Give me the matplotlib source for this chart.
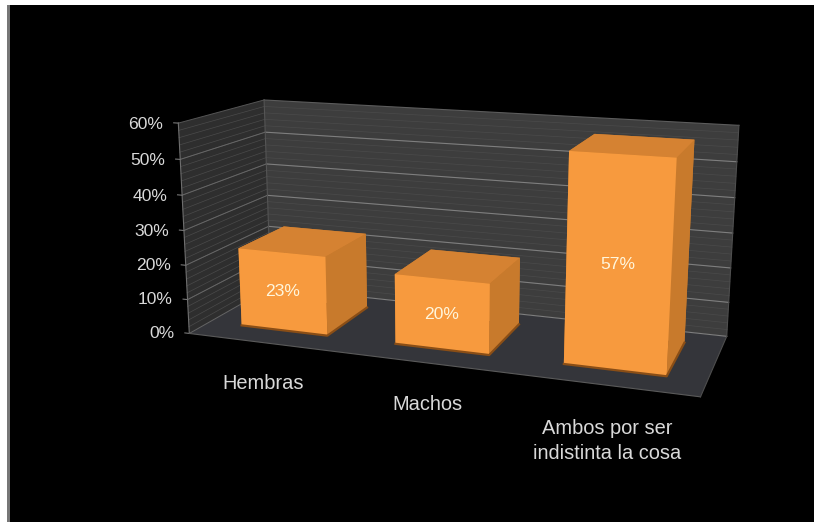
import numpy as np
import matplotlib
matplotlib.use("Agg")
import matplotlib.pyplot as plt
from matplotlib.patches import Rectangle

categories = ["Hembras", "Machos", "Ambos por ser\nindistinta la cosa"]
values = [0.23, 0.20, 0.57]
value_labels = ["23%", "20%", "57%"]
zticks = [0, .1, .2, .3, .4, .5, .6]
zticklabels = ["0%", "10%", "20%", "30%", "40%", "50%", "60%"]

W, H = 814, 522
S = 800
BAR_W, Y0, Y1 = 0.5678, 0.2338, 0.8060
FRONT, SIDE, TOP, BOTTOM = "#F79A3E", "#C87A2C", "#D58232", "#8A4E16"
TXT = "#D9D9D9"
plt.rcParams["font.family"] = ["Liberation Sans", "DejaVu Sans"]

fig = plt.figure(figsize=(W/100, H/100), dpi=100, facecolor="white")
fig.add_artist(Rectangle((7/W, 0), 3/W, (H-5)/H, transform=fig.transFigure, fc="#777777", ec="none", zorder=-2))
fig.add_artist(Rectangle((10/W, 0), 1-10/W, (H-5)/H, transform=fig.transFigure, fc="black", ec="none", zorder=-1))

ax = fig.add_axes([47.03/W, -120.59/H, S/W, S/H], projection="3d")
ax.patch.set_visible(False)
ax.set_xlim(0, 3, view_margin=0)
ax.set_ylim(0, 1, view_margin=0)
ax.set_zlim(0, .6, view_margin=0)
ax.view_init(elev=13.9022, azim=-70.7048, roll=-0.1562)
ax.set_proj_type("persp", focal_length=float(np.exp(-1.2532)))
ax.set_box_aspect((1, .3410, .4176), zoom=.7161)
ax.grid(False)
ax.set_xticks([]); ax.set_yticks([]); ax.set_zticks([])
ax.xaxis.set_pane_color("#2E2E2E"); ax.yaxis.set_pane_color("#3D3D3D"); ax.zaxis.set_pane_color("#34353A")
for a in (ax.xaxis, ax.yaxis, ax.zaxis):
    a.line.set_color("none")
    a.pane.set_edgecolor("none")
    a.label.set_visible(False)
    a.offsetText.set_visible(False)

# walls: fine and major gridlines
for z in np.arange(.02, .6, .02):
    ax.plot([0, 0, 3], [0, 1, 1], [z, z, z], color="#4A4A4A", lw=.5)
for z, lab in zip(zticks, zticklabels):
    top = z == zticks[-1]
    ax.plot([0, 0], [0, 1], [z, z], color="#555555" if top else "#666666", lw=.7)
    ax.plot([0, 3], [1, 1], [z, z], color="#5C5C5C" if top else "#7E7E7E", lw=.8)
    ax.plot([-.03, 0], [0, 0], [z, z], color="#777777", lw=.8)
    ax.text(-.1, 0, z-.006, lab, color=TXT, fontsize=12.6, ha="right", va="center", zorder=50)
ax.plot([0, 0], [0, 0], [0, .6], color="#6E6E6E", lw=.8)
ax.plot([0, 3], [0, 0], [0, 0], color="#5A5A5A", lw=.8)
ax.plot([3, 3], [0, 1], [0, 0], color="#4E4E4E", lw=.8)
ax.plot([3, 3], [1, 1], [0, .6], color="#4E4E4E", lw=.8)
ax.plot([0, 0], [1, 1], [0, .6], color="#555555", lw=.8)

for i, v in enumerate(values):
    x0 = i+.5-BAR_W/2
    ax.bar3d(x0, Y0, 0, BAR_W, Y1-Y0, v, shade=False,
             color=[BOTTOM, TOP, FRONT, SIDE, SIDE, SIDE])
    ax.plot([x0, x0+BAR_W, x0+BAR_W], [Y0, Y0, Y1], [0, 0, 0], color=BOTTOM, lw=1.6, zorder=40)
    ax.text(i+.5, Y0, v/2, value_labels[i], color="#FFF6DC", fontsize=12.6, ha="center", va="center", zorder=60)
    ax.text(i+.54, -.1, -.071, categories[i], color=TXT, fontsize=14.4, ha="center", va="top", zorder=50,
            linespacing=1.4)

fig.savefig("out.png", dpi=100)
